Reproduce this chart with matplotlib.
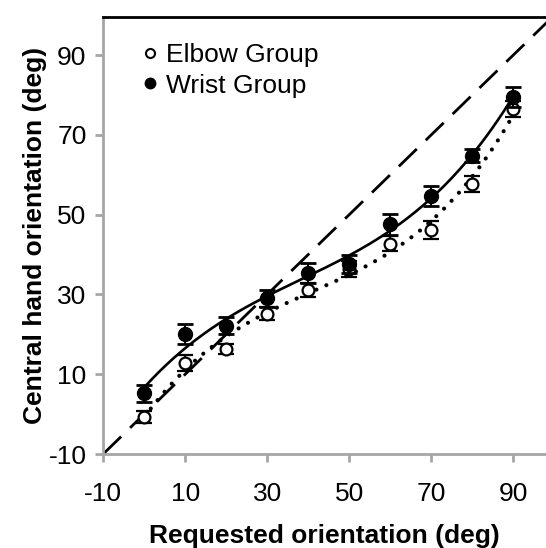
import numpy as np
import matplotlib
matplotlib.use("Agg")
import matplotlib.pyplot as plt

plt.rcParams['font.family'] = ['Liberation Sans', 'DejaVu Sans']
plt.rcParams['axes.unicode_minus'] = False

requested = np.array([0, 10, 20, 30, 40, 50, 60, 70, 80, 90])

# wrist group (filled)
wrist = np.array([5.2, 20.0, 22.2, 29.0, 35.5, 37.6, 47.6, 54.6, 64.8, 79.5])
wrist_err = np.array([2.1, 2.5, 2.2, 2.2, 2.5, 2.2, 2.6, 2.5, 1.7, 2.5])

# elbow group (open)
elbow = np.array([-0.7, 12.7, 16.4, 25.2, 31.1, 36.4, 42.7, 46.1, 57.7, 76.5])
elbow_err = np.array([1.4, 2.0, 1.3, 1.7, 1.8, 2.0, 1.9, 2.3, 1.9, 2.1])

x_ticks = [-10, 10, 30, 50, 70, 90]
y_ticks = [-10, 10, 30, 50, 70, 90]

fig = plt.figure(figsize=(5.46, 5.48), dpi=100)
ax = fig.add_axes([0.189, 0.1715, 0.811, 0.797])

grey = '#a6a6a6'

# identity line
ax.plot([-10, 100], [-10, 100], color='black', lw=2.0, dashes=(9, 4.5), zorder=1)

# cubic trend lines (same as the spreadsheet polynomial trendline)
xs = np.linspace(0, 90, 200)
pw = np.polyfit(requested, wrist, 3)
pe = np.polyfit(requested, elbow, 3)
ax.plot(xs, np.polyval(pw, xs), color='black', lw=1.9, zorder=2)
ax.plot(xs, np.polyval(pe, xs), color='black', lw=3.0,
        linestyle=(0, (0.01, 2.6)), dash_capstyle='round', zorder=2)

ax.errorbar(requested, elbow, yerr=elbow_err, fmt='o', color='black',
            mfc='white', mec='black', mew=1.6, ms=8.5, capsize=6,
            elinewidth=1.5, capthick=2.0, zorder=3)
ax.errorbar(requested, wrist, yerr=wrist_err, fmt='o', color='black',
            ms=10, capsize=6, elinewidth=1.5, capthick=2.0, zorder=4)

# legend
h1, = ax.plot([], [], 'o', mfc='white', mec='black', mew=1.5, ms=6.5)
h2, = ax.plot([], [], 'o', color='black', ms=7.5)
ax.legend([h1, h2], ['Elbow Group', 'Wrist Group'], loc='upper left',
          bbox_to_anchor=(0.065, 0.965), frameon=False, fontsize=19,
          handlelength=0.6, handletextpad=0.3, labelspacing=0.25,
          borderaxespad=0)

ax.set_xlim(-10, 98)
ax.set_ylim(-10, 99.5)
ax.set_xticks(x_ticks)
ax.set_yticks(y_ticks)
ax.tick_params(axis='both', labelsize=19, colors=grey, labelcolor='black',
               length=6, width=2, direction='out')
ax.tick_params(axis='x', pad=14)
ax.tick_params(axis='y', pad=6)

ax.spines['right'].set_visible(False)
ax.spines['left'].set_color(grey)
ax.spines['bottom'].set_color(grey)
ax.spines['left'].set_linewidth(2)
ax.spines['bottom'].set_linewidth(2)
ax.spines['top'].set_color('black')
ax.spines['top'].set_linewidth(2)

ax.set_xlabel('Requested orientation (deg)', fontsize=19, fontweight='bold',
              labelpad=13)
ax.set_ylabel('Central hand orientation (deg)', fontsize=19,
              fontweight='bold', labelpad=1)

fig.savefig('out.png', dpi=100)
